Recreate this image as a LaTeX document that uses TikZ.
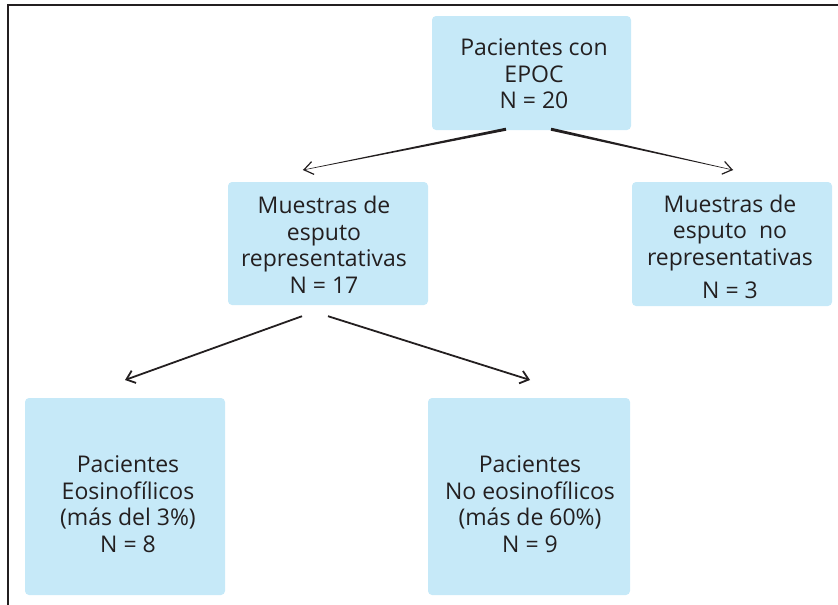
\documentclass[tikz,border=0pt]{standalone}
\usepackage{fontspec}
\setmainfont{Open Sans}
\usetikzlibrary{arrows.meta,calc}
\definecolor{boxblue}{RGB}{198,233,248}
\definecolor{ink}{RGB}{35,31,32}
\begin{document}
\begin{tikzpicture}[x=1pt,y=-1pt,
  box/.style={fill=boxblue, rounded corners=4pt, draw=none, inner sep=0pt},
  lbl/.style={align=center, font=\fontsize{23}{26.5}\selectfont, text=ink, inner sep=0pt},
  headtip/.style={draw=ink, line width=1.2pt, -{Straight Barb[length=9pt,width=13pt]}},
  thickarrow/.style={draw=ink, line width=1.8pt, -{Straight Barb[length=8pt,width=13pt]}}]
\useasboundingbox (0,0) rectangle (838,605);
\draw[line width=1.4pt, ink] (8,605) -- (8,5) -- (838,5);
% boxes
\node[box, minimum width=199pt, minimum height=114pt] (top) at (531.5,73) {};
\node[box, minimum width=200pt, minimum height=123pt] (ml) at (328,243.5) {};
\node[box, minimum width=200pt, minimum height=124pt] (mr) at (732,244) {};
\node[box, minimum width=200pt, minimum height=197pt] (bl) at (125,496.5) {};
\node[box, minimum width=202pt, minimum height=197pt] (br) at (529,496.5) {};
% texts
\node[lbl] (ttop) at (534,74) {Pacientes con\\EPOC\\N = 20};
\node[lbl] (tml) at (324,245) {Muestras de\\esputo\\representativas\\N = 17};
\node[lbl] (tmr) at (730,247) {Muestras de\\esputo\ \ no\\representativas\\[7pt]N = 3};
\node[lbl] (tbl) at (128,504) {Pacientes\\Eosinofílicos\\(más del 3\%)\\N = 8};
\node[lbl] (tbr) at (530,504) {Pacientes\\No eosinofílicos\\(más de 60\%)\\N = 9};
% connectors
\coordinate (a1s) at ($(top.south)+(-25.5,-1)$);
\coordinate (a1e) at (303,170);
\coordinate (a2s) at ($(top.south)+(19.5,-1)$);
\coordinate (a2e) at (733,170);
\coordinate (b1s) at ($(ml.south)+(-26,11)$);
\coordinate (b1e) at (125,380);
\coordinate (b2s) at ($(ml.south)+(0,11)$);
\coordinate (b2e) at (530,380);
\foreach \s/\e in {a1s/a1e,a2s/a2e}{
  \fill[ink] ($(\s)!1.5pt!90:(\e)$) -- ($(\s)!1.5pt!-90:(\e)$) -- ($(\e)!0.25pt!90:(\s)$) -- ($(\e)!0.25pt!-90:(\s)$) -- cycle;
  \draw[headtip] ($(\e)!2pt!(\s)$) -- (\e);
}
\draw[thickarrow] (b1s) -- (b1e);
\draw[thickarrow] (b2s) -- (b2e);
\end{tikzpicture}
\end{document}
